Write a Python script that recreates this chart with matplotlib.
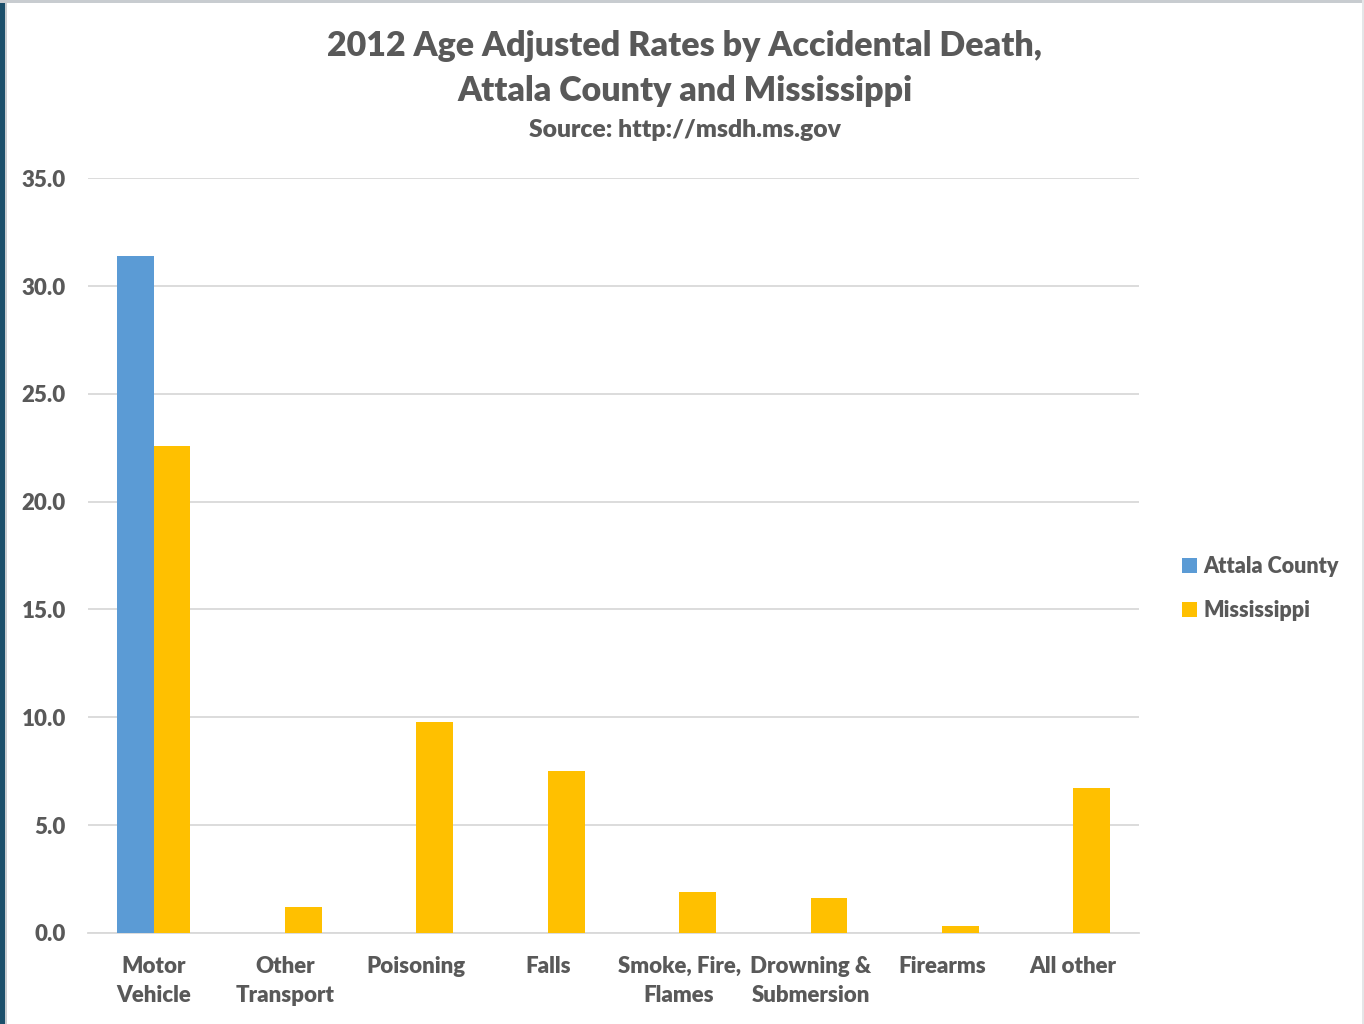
import matplotlib.pyplot as plt
import matplotlib.patches as mpatches
import numpy as np

plt.rcParams['font.family'] = ['Lato', 'DejaVu Sans']
plt.rcParams['font.weight'] = 'heavy'

categories = ['Motor\nVehicle', 'Other\nTransport', 'Poisoning', 'Falls',
              'Smoke, Fire,\nFlames', 'Drowning &\nSubmersion', 'Firearms', 'All other']
attala = [31.4, 0, 0, 0, 0, 0, 0, 0]
mississippi = [22.6, 1.2, 9.8, 7.5, 1.9, 1.6, 0.3, 6.7]
yticks = [0, 5, 10, 15, 20, 25, 30, 35]

C_BLUE = '#5B9BD5'
C_GOLD = '#FFC000'
C_TEXT = '#595959'
C_GRID = '#D9D9D9'
W = 'heavy'

fig = plt.figure(figsize=(13.64, 10.24), dpi=100)
fig.patch.set_facecolor('white')
ax = fig.add_axes([0.0645, 0.0889, 0.7705, 0.7371])

x = np.arange(len(categories))
w = 0.28
ax.bar(x - w/2, attala, w, color=C_BLUE, label='Attala County', zorder=3)
ax.bar(x + w/2, mississippi, w, color=C_GOLD, label='Mississippi', zorder=3)

ax.set_xlim(-0.5, len(categories) - 0.5)
ax.set_ylim(0, 35)
ax.set_yticks(yticks)
ax.set_yticklabels([f'{v:.1f}' for v in yticks], fontweight=W)
ax.set_xticks(x)
ax.set_xticklabels(categories, linespacing=1.45, fontweight=W)
ax.tick_params(axis='y', length=0, pad=16, labelsize=16, labelcolor=C_TEXT)
ax.tick_params(axis='x', length=0, pad=16.5, labelsize=16, labelcolor=C_TEXT)
ax.grid(axis='y', color=C_GRID, linewidth=1.3, zorder=0)
for s in ['top', 'right', 'left']:
    ax.spines[s].set_visible(False)
ax.spines['bottom'].set_color(C_GRID)
ax.spines['bottom'].set_linewidth(1.3)

# title
fig.text(0.502, 0.955, '2012 Age Adjusted Rates by Accidental Death,',
         ha='center', va='center', fontsize=24.5, fontweight=W, color=C_TEXT)
fig.text(0.502, 0.911, 'Attala County and Mississippi',
         ha='center', va='center', fontsize=24.5, fontweight=W, color=C_TEXT)
fig.text(0.502, 0.873, 'Source: http://msdh.ms.gov',
         ha='center', va='center', fontsize=17.8, fontweight=W, color=C_TEXT)

# legend
fig.legend(loc='center left', bbox_to_anchor=(0.852, 0.4255), frameon=False,
           prop={'size': 15.5, 'weight': W}, handlelength=0.7, handleheight=0.7,
           handletextpad=0.3, labelspacing=1.05, labelcolor=C_TEXT)

# border strips
fig.patches.append(mpatches.Rectangle((0, 0), 0.0037, 1, transform=fig.transFigure,
                                      facecolor='#1B4F6B', edgecolor='none'))
fig.patches.append(mpatches.Rectangle((0.0037, 0), 0.0015, 1, transform=fig.transFigure,
                                      facecolor='#C8CCD0', edgecolor='none'))
fig.patches.append(mpatches.Rectangle((0, 0.997), 1, 0.003, transform=fig.transFigure,
                                      facecolor='#C8CCD0', edgecolor='none'))
fig.patches.append(mpatches.Rectangle((0.9985, 0), 0.0015, 1, transform=fig.transFigure,
                                      facecolor='#E4E6E8', edgecolor='none'))

fig.savefig('out.png', dpi=100, facecolor='white')
